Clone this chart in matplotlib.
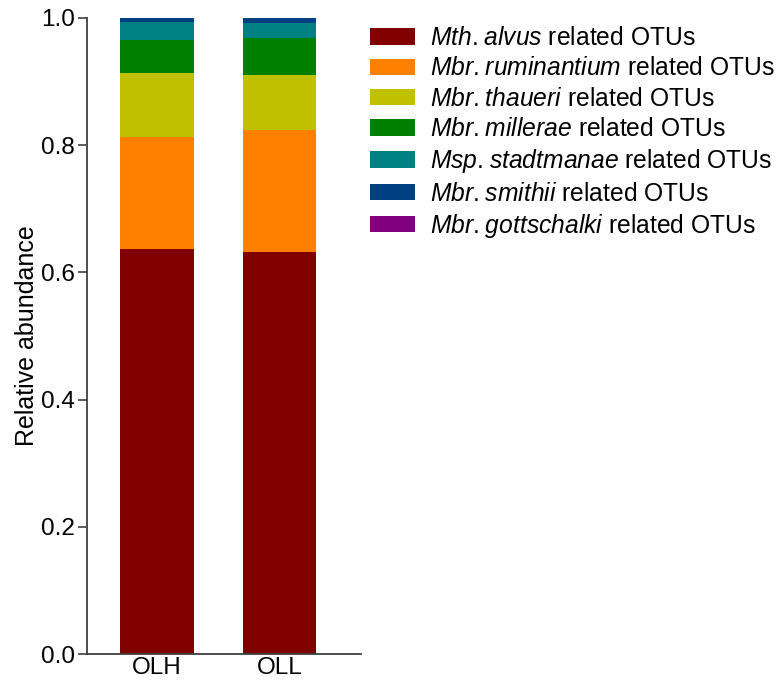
import matplotlib
matplotlib.use("Agg")
import matplotlib.pyplot as plt
import numpy as np

plt.rcParams['font.family'] = ['Liberation Sans', 'DejaVu Sans']
plt.rcParams['mathtext.fontset'] = 'custom'
plt.rcParams['mathtext.it'] = 'Liberation Sans:italic'
plt.rcParams['mathtext.rm'] = 'Liberation Sans'

# samples and stacked relative abundances (bottom to top)
samples = ['OLH', 'OLL']
mth_alvus = [0.637, 0.632]
mbr_ruminantium = [0.176, 0.192]
mbr_thaueri = [0.101, 0.086]
mbr_millerae = [0.051, 0.059]
msp_stadtmanae = [0.028, 0.023]
mbr_smithii = [0.0067, 0.0077]
mbr_gottschalki = [0.0003, 0.0003]

series = [mth_alvus, mbr_ruminantium, mbr_thaueri, mbr_millerae,
          msp_stadtmanae, mbr_smithii, mbr_gottschalki]
genus = ['Mth.', 'Mbr.', 'Mbr.', 'Mbr.', 'Msp.', 'Mbr.', 'Mbr.']
species = ['alvus', 'ruminantium', 'thaueri', 'millerae',
           'stadtmanae', 'smithii', 'gottschalki']
# the period in mathtext already gets a 0.2 em gap after it
names = [r'$\mathit{%s\hspace{0.08}%s}$ related OTUs' % (g, s)
         for g, s in zip(genus, species)]
colors = ['#800000', '#FF8000', '#C0C000', '#008000', '#008080', '#004080', '#800080']

fig = plt.figure(figsize=(7.8, 6.81), dpi=100)
ax = fig.add_axes([0.111, 0.0396, 0.352, 0.934])

x = np.arange(len(samples))
bottom = np.zeros(len(samples))
for vals, name, c in zip(series, names, colors):
    ax.bar(x, vals, bottom=bottom, width=0.6, color=c, label=name)
    bottom += np.array(vals)

ax.set_xlim(-0.576, 1.668)
ax.set_ylim(0, 1.0)
ax.set_yticks([0.0, 0.2, 0.4, 0.6, 0.8, 1.0])
ax.set_xticks(x)
ax.set_xticklabels(samples)
ax.tick_params(axis='x', length=0, labelsize=17.5, pad=2)
ax.tick_params(axis='y', length=6.5, width=1.2, labelsize=17.5, direction='out',
               color='#404040', pad=2)
ax.set_ylabel('Relative abundance', fontsize=18, labelpad=1)
for s in ['top', 'right']:
    ax.spines[s].set_visible(False)
for s in ['left', 'bottom']:
    ax.spines[s].set_linewidth(1.3)
    ax.spines[s].set_color('#404040')

fig.legend(loc='upper left', bbox_to_anchor=(0.462, 0.976), frameon=False,
           fontsize=17.7, handlelength=1.83, handleheight=0.65,
           labelspacing=0.255, handletextpad=0.6, borderaxespad=0)

fig.savefig('out.png', dpi=100)
